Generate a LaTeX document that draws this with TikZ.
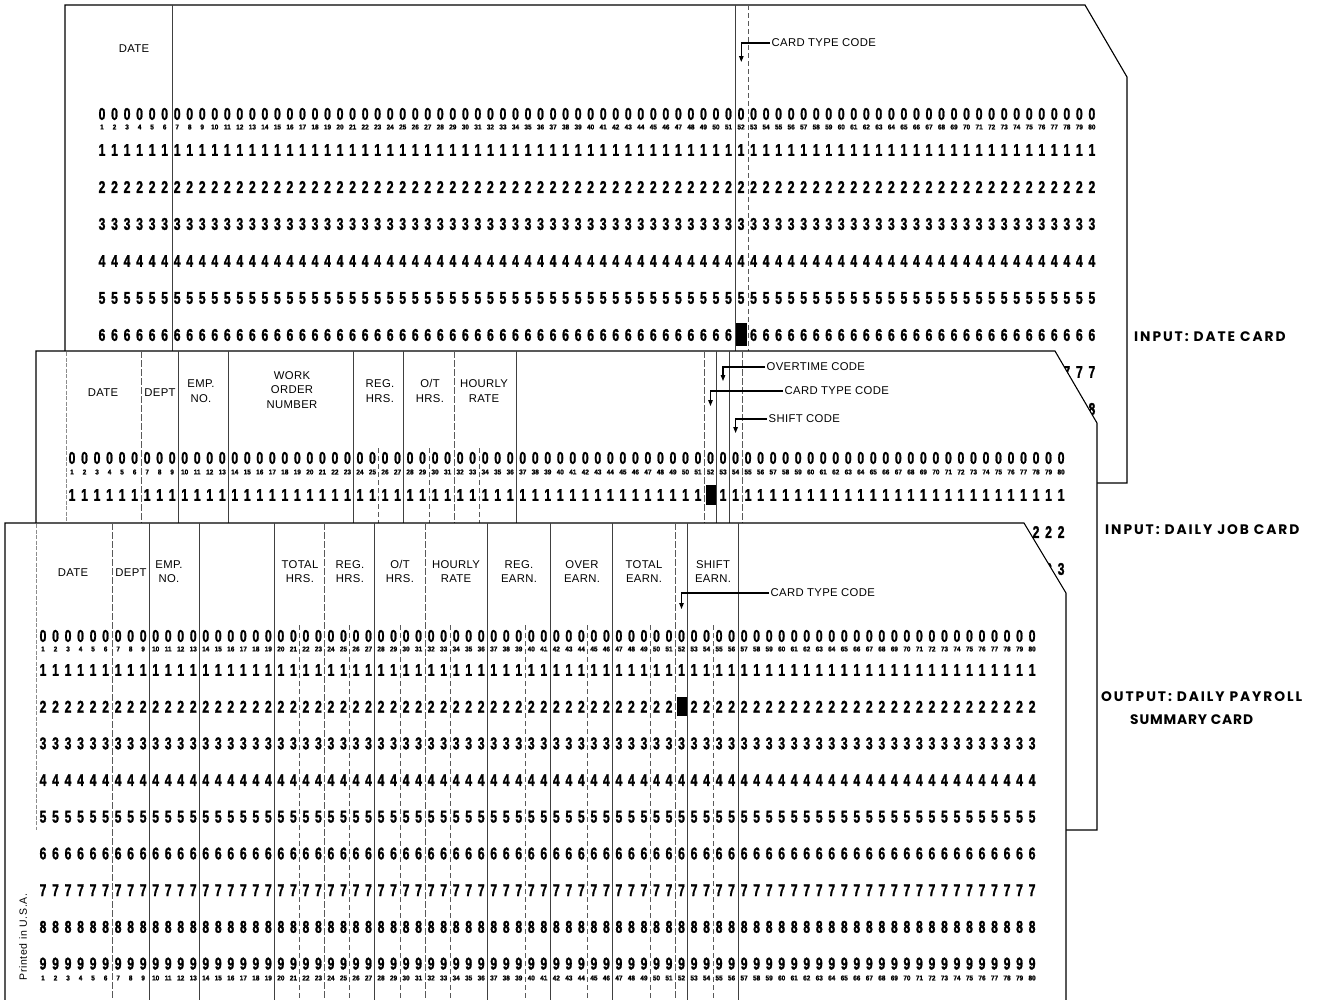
\documentclass[tikz,border=0pt]{standalone}
\usepackage{fontspec}
\setmainfont{Liberation Sans}
\newfontfamily\hdrfont[LetterSpace=3]{Liberation Sans}
\newfontfamily\sidefont[LetterSpace=14]{Poppins}
\newfontfamily\sidefontB[LetterSpace=6]{Poppins}
\newfontfamily\printfont[LetterSpace=6]{Liberation Sans}
\newfontfamily\digfont[BoldFeatures={FakeBold=1.6}]{Liberation Sans}
\usetikzlibrary{arrows.meta}
\newcommand\cardDigit[1]{\scalebox{0.72}[1]{#1}}
\newcommand\cardNum[1]{\scalebox{0.92}[1]{#1}}
\tikzset{
  card/.style={draw=black, line width=1.1pt, fill=white, line join=miter},
  fdiv/.style={draw=black!75, line width=0.6pt},
  fdash/.style={draw=black!65, line width=0.6pt, dash pattern=on 7pt off 2pt},
  sdiv/.style={draw=black!65, line width=0.55pt, dash pattern=on 5pt off 3pt},
  ghost/.style={draw=black!45, line width=0.5pt, dash pattern=on 4pt off 1.5pt},
  dg/.style={inner sep=0pt, font=\digfont\bfseries\fontsize{17}{17}\selectfont},
  cn/.style={inner sep=0pt, font=\digfont\bfseries\fontsize{7}{7}\selectfont},
  hdr/.style={inner sep=0pt, align=center, font=\hdrfont\fontsize{11.3}{14.5}\selectfont},
  lbl/.style={inner ysep=0pt, inner xsep=1.5pt, anchor=west, font=\hdrfont\fontsize{11.3}{13}\selectfont},
  side/.style={inner sep=0pt, anchor=west, align=left, font=\sidefont\bfseries\fontsize{13.8}{23}\selectfont},
  ptr/.style={draw=black, line width=1.1pt, -{Triangle[length=6pt,width=4.5pt]}},
  hole/.style={fill=black},
}
\begin{document}
\begin{tikzpicture}[x=1pt,y=-1pt]
\useasboundingbox (0,0) rectangle (1323,999);
\clip (0,0) rectangle (1323,999);

% ================= TOP CARD: DATE CARD =================
\draw[card] (65,5) -- (1085,5) -- (1127,77) -- (1127,483) -- (65,483) -- cycle;
\draw[fdiv] (171.9,5) -- (171.9,483);
\draw[fdiv] (735.3,5) -- (735.3,483);
\draw[sdiv] (747.8,5) -- (747.8,483);
\node[hdr] (t-date) at (134,49) {DATE};
\foreach \c in {1,...,80}{
  \pgfmathsetmacro\xx{102+(\c-1)*12.53}
  \node[dg] (t0-\c) at (\xx,114) {\cardDigit{0}};
  \node[cn] (tn-\c) at (\xx,127) {\cardNum{\c}};
  \foreach \r/\yy in {1/150,2/187,3/224,4/261,5/298,6/335,7/372,8/409}{
    \node[dg] (t\r-\c) at (\xx,\yy) {\cardDigit{\r}};
  }
}
\fill[hole] (735.5,323) rectangle (746.5,346);
\node[lbl] (t-ctc) at (770,43) {CARD TYPE CODE};
\coordinate (t-ctc-end) at (741.3,62);
\draw[ptr] (t-ctc.west) -| (t-ctc-end);

% ================= MIDDLE CARD: DAILY JOB CARD =================
\draw[card] (36,351) -- (1055,351) -- (1097,423) -- (1097,830) -- (36,830) -- cycle;
\draw[ghost] (66,352) -- (66,523);
\foreach \k in {9,13,23,27,36,52,53}{
  \pgfmathsetmacro\xx{72+(\k-0.5)*12.52}
  \draw[fdiv] (\xx,351) -- (\xx,830);
}
\foreach \k in {6,31,51,54}{
  \pgfmathsetmacro\xx{72+(\k-0.5)*12.52}
  \draw[fdash] (\xx,351) -- (\xx,830);
}
\foreach \k in {25,29,33}{
  \pgfmathsetmacro\xx{72+(\k-0.5)*12.52}
  \draw[sdiv] (\xx,448) -- (\xx,830);
}
\node[hdr] (m-date) at (103,393) {DATE};
\node[hdr] (m-dept) at (160,393) {DEPT};
\node[hdr] (m-emp) at (201,391) {EMP.\\NO.};
\node[hdr] (m-won) at (292,390) {WORK\\ORDER\\NUMBER};
\node[hdr] (m-reg) at (380,391) {REG.\\HRS.};
\node[hdr] (m-ot) at (430,391) {O/T\\HRS.};
\node[hdr] (m-rate) at (484,391) {HOURLY\\RATE};
\foreach \c in {1,...,80}{
  \pgfmathsetmacro\xx{72+(\c-1)*12.52}
  \node[dg] (m0-\c) at (\xx,458) {\cardDigit{0}};
  \node[cn] (mn-\c) at (\xx,472) {\cardNum{\c}};
  \foreach \r/\yy in {1/495,2/532,3/569}{
    \node[dg] (m\r-\c) at (\xx,\yy) {\cardDigit{\r}};
  }
}
\fill[hole] (706,485) rectangle (716,505);
\node[lbl] (m-otc) at (765,367) {OVERTIME CODE};
\coordinate (m-otc-end) at (723,381);
\draw[ptr] (m-otc.west) -| (m-otc-end);
\node[lbl] (m-ctc) at (783,391) {CARD TYPE CODE};
\coordinate (m-ctc-end) at (710.5,406);
\draw[ptr] (m-ctc.west) -| (m-ctc-end);
\node[lbl] (m-sc) at (767,419) {SHIFT CODE};
\coordinate (m-sc-end) at (735.6,433);
\draw[ptr] (m-sc.west) -| (m-sc-end);

% ================= BOTTOM CARD: DAILY PAYROLL SUMMARY CARD =================
\draw[card] (5,523) -- (1024,523) -- (1066,593) -- (1066,1010) -- (5,1010) -- cycle;
\draw[ghost] (36,524) -- (36,830);
\foreach \k in {9,13,19,27,36,41,46,52,56}{
  \pgfmathsetmacro\xx{43+(\k-0.5)*12.52}
  \draw[fdiv] (\xx,523) -- (\xx,1010);
}
\foreach \k in {6,23,31,51}{
  \pgfmathsetmacro\xx{43+(\k-0.5)*12.52}
  \draw[fdash] (\xx,523) -- (\xx,1010);
}
\foreach \k in {21,25,29,33,39,44,49,54}{
  \pgfmathsetmacro\xx{43+(\k-0.5)*12.52}
  \draw[sdiv] (\xx,625) -- (\xx,1010);
}
\node[hdr] (b-date) at (73,573) {DATE};
\node[hdr] (b-dept) at (131,573) {DEPT};
\node[hdr] (b-emp) at (169,571.5) {EMP.\\NO.};
\node[hdr] (b-thrs) at (300,571.5) {TOTAL\\HRS.};
\node[hdr] (b-rhrs) at (350,571.5) {REG.\\HRS.};
\node[hdr] (b-ohrs) at (400,571.5) {O/T\\HRS.};
\node[hdr] (b-rate) at (456,571.5) {HOURLY\\RATE};
\node[hdr] (b-rear) at (519,571.5) {REG.\\EARN.};
\node[hdr] (b-oear) at (582,571.5) {OVER\\EARN.};
\node[hdr] (b-tear) at (644,571.5) {TOTAL\\EARN.};
\node[hdr] (b-sear) at (713,571.5) {SHIFT\\EARN.};
\foreach \c in {1,...,80}{
  \pgfmathsetmacro\xx{43+(\c-1)*12.52}
  \node[dg] (b0-\c) at (\xx,636) {\cardDigit{0}};
  \node[cn] (bn-\c) at (\xx,649) {\cardNum{\c}};
  \foreach \r in {1,...,9}{
    \pgfmathsetmacro\yy{670+(\r-1)*36.7}
    \node[dg] (b\r-\c) at (\xx,\yy) {\cardDigit{\r}};
  }
  \node[cn] (bm-\c) at (\xx,978) {\cardNum{\c}};
}
\fill[hole] (677,697) rectangle (687,716);
\node[lbl] (b-ctc) at (769,593) {CARD TYPE CODE};
\coordinate (b-ctc-end) at (681.5,609);
\draw[ptr] (b-ctc.west) -| (b-ctc-end);
\node[inner sep=0pt, rotate=90, font=\printfont\fontsize{10.5}{11}\selectfont] (b-print) at (23,937) {Printed in U.S.A.};

% ================= SIDE LABELS =================
\node[side] (s-date) at (1134,337) {INPUT:\ DATE CARD};
\node[side] (s-job) at (1105,530) {INPUT:\ DAILY JOB CARD};
\node[side] (s-out) at (1101,708.5) {OUTPUT:\ DAILY PAYROLL\\\hspace*{29pt}{\sidefontB\bfseries SUMMARY CARD}};
\end{tikzpicture}
\end{document}
